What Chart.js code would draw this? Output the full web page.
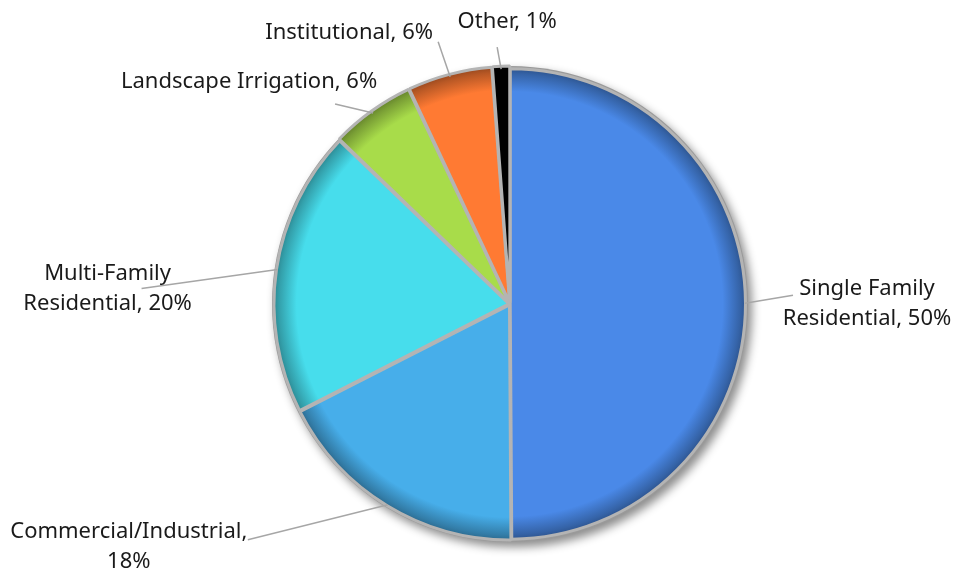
<!DOCTYPE html>
<html>
<head>
<meta charset="utf-8">
<script src="https://cdn.jsdelivr.net/npm/chart.js@4.4.1/dist/chart.umd.min.js"></script>
<style>
  html, body { margin: 0; padding: 0; background: #ffffff; }
  #wrap { width: 956px; height: 571px; position: relative; }
</style>
</head>
<body>
<div id="wrap"><canvas id="pie-chart"></canvas></div>
<script>
// data (percent of total use)
const categories = [
  "Single Family Residential",
  "Commercial/Industrial",
  "Multi-Family Residential",
  "Landscape Irrigation",
  "Institutional",
  "Other"
];
const shares = [49.9, 17.6, 19.7, 5.8, 5.8, 1.2];
// how each label is broken into lines
const labelLines = [
  ["Single Family", "Residential, {p}"],
  ["Commercial/Industrial,", "{p}"],
  ["Multi-Family", "Residential, {p}"],
  ["Landscape Irrigation, {p}"],
  ["Institutional, {p}"],
  ["Other, {p}"]
];

const sliceColors = ["#4a89e8", "#47aeea", "#47ddec", "#a8dc4a", "#ff7a33", "#000000"];
const sliceOffsets = [1, 4, 4, 6, 6, 6];

// leader line end relative to the slice edge, then text centre relative to leader end
const leaderEnds = [[48, -8], [-140, 35], [-136, 19], [-38, -9], [-12, -35], [-4, -22]];
const textShift = [[74, 8], [-119, 7], [-34, 0], [-86, -22], [-89, -9], [10, -25]];

function darken(hex, f) {
  let n = parseInt(hex.slice(1), 16);
  let r = Math.round(((n >> 16) & 255) * f);
  let g = Math.round(((n >> 8) & 255) * f);
  let b = Math.round((n & 255) * f);
  return "rgb(" + r + "," + g + "," + b + ")";
}

// pie shadow and grey rim drawn under the slices
const pieBase = {
  id: "pieBase",
  beforeDatasetsDraw(chart) {
    let arc = chart.getDatasetMeta(0).data[0];
    if (!arc) return;
    let ctx = chart.ctx;
    ctx.save();
    ctx.shadowColor = "rgba(0,0,0,0.45)";
    ctx.shadowBlur = 10;
    ctx.shadowOffsetX = 4;
    ctx.shadowOffsetY = 5;
    ctx.fillStyle = "#9a9a9a";
    ctx.beginPath();
    ctx.arc(arc.x, arc.y, arc.outerRadius + 3, 0, Math.PI * 2);
    ctx.fill();
    ctx.restore();
  }
};

// leader lines and labels
const pieLabels = {
  id: "pieLabels",
  afterDatasetsDraw(chart) {
    let ctx = chart.ctx;
    let meta = chart.getDatasetMeta(0);
    let total = shares.reduce((a, b) => a + b, 0);
    ctx.save();
    meta.data.forEach(function (arc, i) {
      let mid = (arc.startAngle + arc.endAngle) / 2;
      let r = arc.outerRadius;
      let sx = arc.x + Math.cos(mid) * r;
      let sy = arc.y + Math.sin(mid) * r;
      let ex = sx + leaderEnds[i][0];
      let ey = sy + leaderEnds[i][1];
      ctx.strokeStyle = "#a6a6a6";
      ctx.lineWidth = 1.5;
      ctx.beginPath();
      ctx.moveTo(sx, sy);
      ctx.lineTo(ex, ey);
      ctx.stroke();

      let pct = Math.round(shares[i] / total * 100) + "%";
      let lines = labelLines[i].map(l => l.replace("{p}", pct));
      let cx = ex + textShift[i][0];
      let cy = ey + textShift[i][1];
      ctx.fillStyle = "#1a1a1a";
      ctx.font = "22px 'Noto Sans', 'Open Sans', sans-serif";
      ctx.textAlign = "center";
      ctx.textBaseline = "middle";
      let lh = 30;
      lines.forEach(function (line, k) {
        ctx.fillText(line, cx, cy + (k - (lines.length - 1) / 2) * lh);
      });
    });
    ctx.restore();
  }
};

const config = {
  type: "pie",
  data: {
    labels: categories,
    datasets: [{
      data: shares,
      backgroundColor: function (context) {
        let chart = context.chart;
        let area = chart.chartArea;
        let i = context.dataIndex;
        if (!area || i === undefined) return sliceColors[i];
        let x = (area.left + area.right) / 2;
        let y = (area.top + area.bottom) / 2;
        let g = chart.ctx.createRadialGradient(x, y, 0, x, y, 236);
        let c = sliceColors[i];
        g.addColorStop(0, c);
        g.addColorStop(0.9, c);
        g.addColorStop(0.975, darken(c, 0.72));
        g.addColorStop(1, darken(c, 0.6));
        return g;
      },
      borderColor: "#b4b4b4",
      borderWidth: 3,
      offset: sliceOffsets,
      hoverOffset: 0
    }]
  },
  options: {
    responsive: false,
    animation: false,
    radius: 235,
    layout: { padding: { left: 120, right: 56, top: 80, bottom: 43 } },
    plugins: {
      legend: { display: false },
      tooltip: { enabled: false }
    }
  },
  plugins: [pieBase, pieLabels]
};

let canvas = document.getElementById("pie-chart");
canvas.width = 956;
canvas.height = 571;
new Chart(canvas, config);
</script>
</body>
</html>
